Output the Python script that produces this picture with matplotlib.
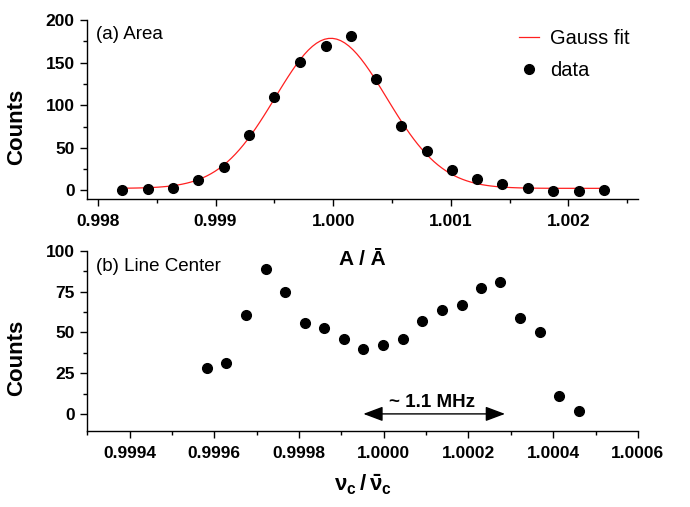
import matplotlib
matplotlib.use('Agg')
import matplotlib.pyplot as plt
import numpy as np
from matplotlib.ticker import MultipleLocator, FormatStrFormatter

plt.rcParams['font.family'] = ['Liberation Sans', 'DejaVu Sans']
plt.rcParams['mathtext.fontset'] = 'custom'
plt.rcParams['mathtext.bf'] = 'Liberation Sans:bold'
plt.rcParams['mathtext.rm'] = 'Liberation Sans:bold'

# (a) area histogram
area_x = [0.998203, 0.998422, 0.998637, 0.998851, 0.999070, 0.999284, 0.999499,
          0.999718, 0.999936, 1.000151, 1.000365, 1.000580, 1.000795, 1.001009,
          1.001224, 1.001439, 1.001657, 1.001872, 1.002090, 1.002305]
area_counts = [1, 2, 3, 12, 28, 65, 110, 151, 169, 181, 131, 76, 46, 24,
               13, 8, 3, -1, -1, 0.5]

# gauss fit parameters: offset, amplitude, centre, sigma
fit_y0, fit_amp, fit_xc, fit_sigma = 2.5, 176.0, 0.99998, 0.000472

# (b) line center histogram
lc_x = [0.999582, 0.999628, 0.999675, 0.999721, 0.999767, 0.999813, 0.999860,
        0.999907, 0.999952, 0.999999, 1.000045, 1.000091, 1.000137, 1.000184,
        1.000230, 1.000275, 1.000321, 1.000368, 1.000413, 1.000460]
lc_counts = [28, 31, 61, 89, 75, 56, 53, 46, 40, 42, 46, 57, 64, 67,
             77, 81, 59, 50, 11, 2]

# spread marker in the lower panel
span_lo, span_hi = 0.9999517, 1.0002863
span_text = '~ 1.1 MHz'
span_text_x = 1.000113

fig = plt.figure(figsize=(6.9, 5.07), dpi=100)
ax1 = fig.add_axes([0.1265, 0.6075, 0.798, 0.3531])
ax2 = fig.add_axes([0.1265, 0.1499, 0.798, 0.355])

xf = np.linspace(area_x[0], area_x[-1], 120)
yf = fit_y0 + fit_amp * np.exp(-0.5 * ((xf - fit_xc) / fit_sigma) ** 2)
ax1.plot(xf, yf, color='#ff2020', lw=0.9, label='Gauss fit')
ax1.plot(area_x, area_counts, 'o', color='black', ms=7, label='data')

ax2.plot(lc_x, lc_counts, 'o', color='black', ms=7)

for ax in (ax1, ax2):
    ax.spines['top'].set_visible(False)
    ax.spines['right'].set_visible(False)
    ax.spines['left'].set_linewidth(1.0)
    ax.spines['bottom'].set_linewidth(1.0)
    ax.tick_params(which='major', direction='out', length=5, width=1,
                   labelsize=12.5)
    ax.tick_params(which='minor', direction='out', length=3, width=1)
    ax.tick_params(axis='y', pad=4)
    ax.tick_params(axis='x', pad=6)
    ax.set_ylabel('Counts', fontsize=16, fontweight='bold')

ax1.set_xlim(0.99791, 1.00259)
ax1.set_ylim(-10, 200)
ax1.xaxis.set_major_locator(MultipleLocator(0.001))
ax1.xaxis.set_minor_locator(MultipleLocator(0.0005))
ax1.xaxis.set_major_formatter(FormatStrFormatter('%.3f'))
ax1.yaxis.set_major_locator(MultipleLocator(50))
ax1.yaxis.set_minor_locator(MultipleLocator(25))
ax1.yaxis.set_label_coords(-0.110, 0.404)

ax2.set_xlim(0.9993, 1.0006)
ax2.set_ylim(-10.5, 100)
ax2.xaxis.set_major_locator(MultipleLocator(0.0002))
ax2.xaxis.set_minor_locator(MultipleLocator(0.0001))
ax2.xaxis.set_major_formatter(FormatStrFormatter('%.4f'))
ax2.yaxis.set_major_locator(MultipleLocator(25))
ax2.yaxis.set_minor_locator(MultipleLocator(12.5))
ax2.yaxis.set_label_coords(-0.110, 0.404)

for ax in (ax1, ax2):
    for lbl in ax.get_xticklabels() + ax.get_yticklabels():
        lbl.set_fontweight('bold')

ax1.legend(loc='upper left', bbox_to_anchor=(0.752, 0.943),
           bbox_transform=fig.transFigure, frameon=False, fontsize=14.5,
           handlelength=1.0, handletextpad=0.55, labelspacing=0.65,
           borderpad=0, borderaxespad=0)

fig.text(0.1395, 0.932, '(a) Area', fontsize=13.5, va='center')
fig.text(0.1395, 0.4753, '(b) Line Center', fontsize=13.5, va='center')

fig.text(0.5254, 1 - 265 / 507, 'A / \u0100', fontsize=15, fontweight='bold',
         ha='center', va='baseline')
fig.text(0.526, 1 - 491.5 / 507, r'$\mathbf{\nu_c\,/\,\bar{\nu}_c}$',
         fontsize=16, ha='center', va='baseline')

ax2.annotate('', xy=(span_lo, 0), xytext=(span_hi, 0),
             arrowprops=dict(arrowstyle='<|-|>,head_length=0.8,head_width=0.3',
                             color='black', lw=1, mutation_scale=15,
                             shrinkA=0, shrinkB=0))
ax2.text(span_text_x, 4.3, span_text, fontsize=13.5,
         fontweight='bold', ha='center', va='baseline')

fig.savefig('out.png', dpi=100)
